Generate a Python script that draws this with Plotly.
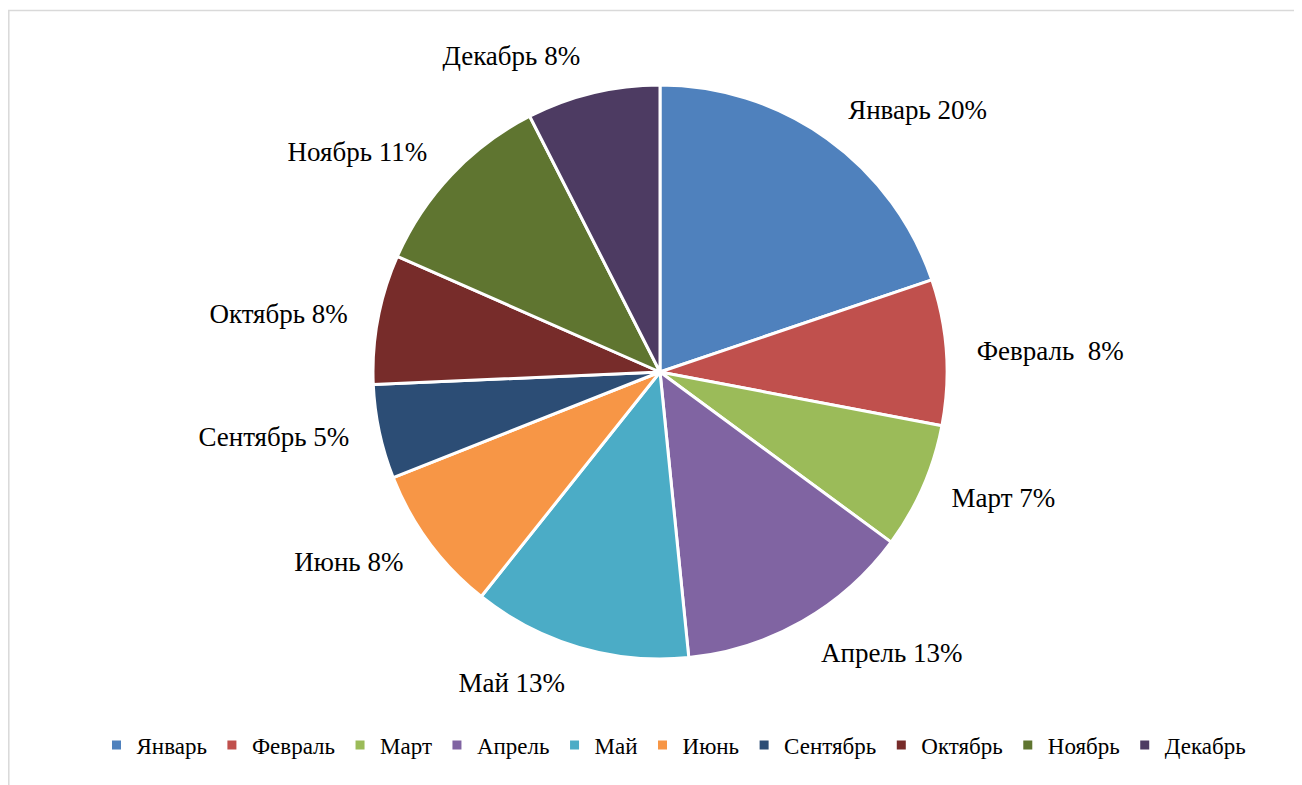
import plotly.graph_objects as go

months = ["Январь", "Февраль", "Март", "Апрель", "Май", "Июнь",
          "Сентябрь", "Октябрь", "Ноябрь", "Декабрь"]
shares = [19.8, 8.2, 7.1, 13.3, 12.3, 8.3, 5.3, 7.3, 10.9, 7.5]
pct_labels = ["20%", "8%", "7%", "13%", "13%", "8%", "5%", "8%", "11%", "8%"]
separators = [" ", "\u00a0 ", " ", " ", " ", " ", " ", " ", " ", " "]
colors = ["#4F81BD", "#C0504D", "#9BBB59", "#8064A2", "#4BACC6", "#F79646",
          "#2C4D75", "#772C2A", "#5F7530", "#4D3B62"]

texts = [m + s + p for m, s, p in zip(months, separators, pct_labels)]

W, H = 1302, 785
# page body has an 8px margin; figure coordinates are offset accordingly
cx, cy, r = 652, 364, 287
r_lab = 310  # invisible ring that carries the outside labels a little further out


def dom(rad):
    return dict(x=[(cx - rad) / W, (cx + rad) / W],
                y=[(H - cy - rad) / H, (H - cy + rad) / H])


fig = go.Figure()
fig.add_trace(go.Pie(
    labels=months,
    values=shares,
    textinfo="none",
    sort=False,
    direction="clockwise",
    rotation=0,
    marker=dict(colors=colors, line=dict(color="white", width=3)),
    hoverinfo="skip",
    domain=dom(r),
))
fig.add_trace(go.Pie(
    labels=months,
    values=shares,
    text=texts,
    textinfo="text",
    textposition="outside",
    sort=False,
    direction="clockwise",
    rotation=0,
    marker=dict(colors=["rgba(0,0,0,0)"] * len(months), line=dict(width=0)),
    textfont=dict(family="Liberation Serif", size=27, color="black"),
    hoverinfo="skip",
    showlegend=False,
    domain=dom(r_lab),
))

fig.update_layout(
    width=W, height=H,
    margin=dict(l=0, r=0, t=0, b=0),
    paper_bgcolor="white",
    showlegend=True,
    legend=dict(orientation="h", x=(674 - 8) / W, xanchor="center", y=(H - 737) / H, yanchor="middle",
                font=dict(family="Liberation Serif", size=23, color="black"),
                itemwidth=30, tracegroupgap=0),
    shapes=[dict(type="rect", xref="paper", yref="paper",
                 x0=0.8 / W, x1=1.01, y0=-0.01, y1=(H - 2.5) / H,
                 line=dict(color="#D9D9D9", width=1.5), fillcolor="rgba(0,0,0,0)")],
)

fig.write_html("out.html")
